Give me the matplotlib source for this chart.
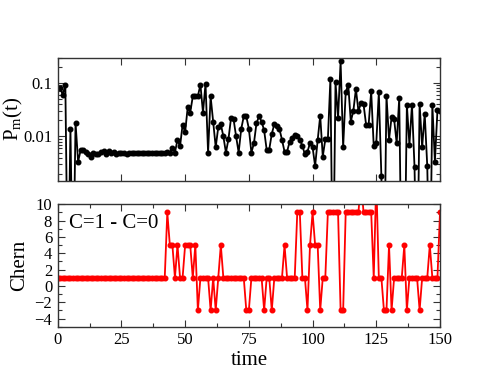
import matplotlib
matplotlib.use("Agg")
import matplotlib.pyplot as plt
import numpy as np
from matplotlib.ticker import MultipleLocator, LogLocator, NullFormatter, FixedLocator

plt.rcParams["font.family"] = ["Liberation Serif", "DejaVu Serif"]
plt.rcParams["mathtext.fontset"] = "custom"
plt.rcParams["mathtext.rm"] = "Liberation Serif"
plt.rcParams["mathtext.it"] = "Liberation Serif:italic"

# P_m(t), values; 1e-5 means "below the axis"
pm_time = list(range(1, 151))
pm_values = [
    0.08, 0.06, 0.093, 1e-5, 0.0139, 1e-5, 0.018, 0.0034, 0.0055, 0.0055,
    0.0051, 0.0047, 0.0042, 0.0049, 0.0047, 0.0047, 0.0051, 0.0053, 0.0047, 0.0053,
    0.0049, 0.0051, 0.0047, 0.0049, 0.0050, 0.0049, 0.0047, 0.0049, 0.0049, 0.0048,
    0.0049, 0.0048, 0.0049, 0.0048, 0.0049, 0.0049, 0.0048, 0.0049, 0.0049, 0.0049,
    0.0050, 0.0049, 0.0052, 0.0050, 0.0061, 0.0050, 0.0087, 0.0065, 0.0166, 0.0119,
    0.035, 0.028, 0.056, 0.056, 0.057, 0.093, 0.028, 0.097, 0.0050, 0.056,
    0.019, 0.0063, 0.015, 0.017, 0.010, 0.0050, 0.0089, 0.022, 0.021, 0.010,
    0.0050, 0.0138, 0.0237, 0.0237, 0.014, 0.0050, 0.0075, 0.0178, 0.0237, 0.019,
    0.013, 0.0056, 0.0057, 0.0112, 0.017, 0.016, 0.0138, 0.0087, 0.0052, 0.0052,
    0.0080, 0.0095, 0.0108, 0.0103, 0.0087, 0.0067, 0.0046, 0.0052, 0.0075, 0.0063,
    0.0028, 0.0085, 0.0245, 0.0042, 0.0088, 0.0088, 0.119, 1e-5, 0.103, 0.022,
    0.254, 0.0063, 0.067, 0.093, 0.019, 0.030, 0.077, 0.030, 0.042, 0.040,
    0.0166, 0.0166, 0.070, 0.0065, 0.0075, 0.067, 0.0018, 1e-5, 0.058, 0.0087,
    0.023, 0.021, 0.0075, 0.052, 1e-5, 1e-5, 0.039, 0.0070, 0.039, 0.0027,
    1e-5, 0.041, 0.0063, 0.0266, 0.0028, 1e-5, 0.039, 0.0034, 0.0307, 0.030,
]

# Chern difference C=1 - C=0
chern_time = list(range(0, 151))
chern_values = (
    [1] * 43
    + [9, 5, 5, 1, 5, 1, 1, 5, 5, 5, 1, 5, -3, 1, 1, 1, 1, -3, 1, -3, 1, 5]
    + [1] * 9
    + [-3, -3, 1, 1, 1, 1, 1, -3, 1, 1, -3, 1, 1, 1, 1, 5, 1, 1, 1, 1, 9, 9, 1, 1, -3,
       5, 9, 5, 5, -3, 1, 1]
    + [9] * 5
    + [-3, -3]
    + [9] * 6
    + [13, 9, 9, 9, 9, 1, 13, 1, 1, -3, -3, 5, -3, 1, 1, 1, 1, 5, -3, 1, 1, 1, 1, -3,
       1, 1, 1, 5, 1, 1, 1, 9]
)

W, H = 498, 385
fig = plt.figure(figsize=(W / 100, H / 100), dpi=100)
left = 57.7 / W
width = 382.3 / W
ax1 = fig.add_axes([left, 1 - 180.5 / H, width, 123.0 / H])
ax2 = fig.add_axes([left, 1 - 326.7 / H, width, 122.4 / H])

ax1.plot(pm_time, pm_values, color="black", lw=1.3, marker="o", ms=3.3)
ax1.set_yscale("log")
ax1.set_ylim(0.0015, 0.3)
ax1.set_xlim(0, 150)
ax1.yaxis.set_major_locator(FixedLocator([0.01, 0.1]))
ax1.yaxis.set_major_formatter(matplotlib.ticker.FixedFormatter(["0.01", "0.1"]))
ax1.yaxis.set_minor_locator(LogLocator(base=10, subs=np.arange(2, 10)))
ax1.yaxis.set_minor_formatter(NullFormatter())
ax1.xaxis.set_major_locator(MultipleLocator(25))
ax1.set_xticklabels([])
ax1.set_ylabel(r"P$_\mathrm{m}$(t)", fontsize=15)
ax1.yaxis.set_label_coords(-0.085, 0.5)

ax2.plot(chern_time, chern_values, color="red", lw=1.3, marker="o", ms=3.3)
ax2.set_xlim(0, 150)
ax2.set_ylim(-5, 10)
ax2.xaxis.set_major_locator(MultipleLocator(25))
ax2.xaxis.set_minor_locator(MultipleLocator(12.5))
ax2.yaxis.set_major_locator(MultipleLocator(2))
ax2.yaxis.set_minor_locator(MultipleLocator(1))
ax2.set_ylabel("Chern", fontsize=15)
ax2.yaxis.set_label_coords(-0.075, 0.5)
ax2.set_xlabel("time", fontsize=15)
ax2.xaxis.set_label_coords(0.5, -0.2)
ax2.text(0.03, 0.84, "C=1 - C=0", transform=ax2.transAxes, fontsize=15,
         va="center", ha="left")

for ax in (ax1, ax2):
    ax.tick_params(which="both", direction="in", top=True, right=True,
                   labelsize=12, pad=4, width=0.8, color="#333333")
    ax.tick_params(which="major", length=5)
    ax.tick_params(which="minor", length=3)
    for s in ax.spines.values():
        s.set_linewidth(1.0)
        s.set_color("#333333")

fig.savefig("out.png", dpi=100)
